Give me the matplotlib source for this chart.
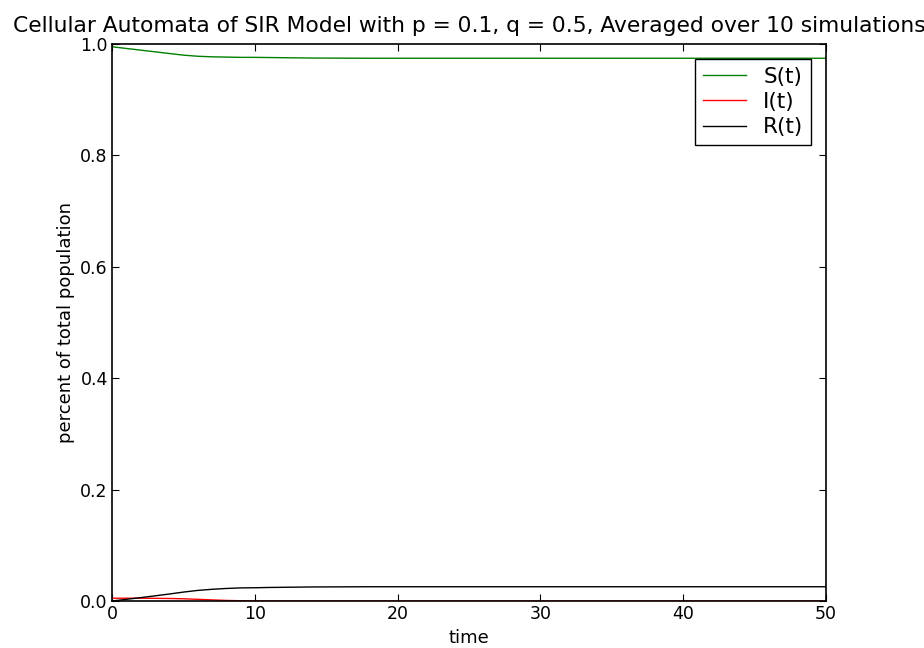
import matplotlib
matplotlib.use("Agg")
import matplotlib.pyplot as plt
import numpy as np

t = list(range(51))
S = [0.995, 0.992, 0.989, 0.986, 0.983, 0.980, 0.978, 0.977, 0.9765, 0.976,
     0.976, 0.9757, 0.9754, 0.9751, 0.9748, 0.9747, 0.9746, 0.9745, 0.9744, 0.9744,
     0.9744] + [0.9744] * 30
I = [0.005, 0.005, 0.005, 0.0048, 0.0045, 0.004, 0.003, 0.002, 0.001, 0.0005,
     0.0002] + [0.0] * 40
R = [0.0, 0.003, 0.006, 0.0092, 0.0125, 0.016, 0.019, 0.021, 0.0225, 0.0235,
     0.0238, 0.0243, 0.0246, 0.0249, 0.0252, 0.0253, 0.0254, 0.0255, 0.0256, 0.0256,
     0.0256] + [0.0256] * 30

fig = plt.figure(figsize=(9.24, 6.48), dpi=100)
ax = fig.add_axes([112 / 924, 47 / 648, 714 / 924, 557 / 648])

ax.plot(t, S, color='g', lw=1, label='S(t)')
ax.plot(t, I, color='r', lw=1, label='I(t)')
ax.plot(t, R, color='k', lw=1, label='R(t)')

ax.set_xlim(0, 50)
ax.set_ylim(0, 1.0)
ax.set_xticks([0, 10, 20, 30, 40, 50])
ax.set_yticks(np.arange(0, 1.01, 0.2))
ax.tick_params(direction='in', top=True, right=True, labelsize=12.5, length=5, pad=3)
for s in ax.spines.values():
    s.set_linewidth(1.2)

ax.set_xlabel('time', fontsize=13)
ax.set_ylabel('percent of total population', fontsize=13)
ax.set_title('Cellular Automata of SIR Model with p = 0.1, q = 0.5, Averaged over 10 simulations',
             fontsize=15.7, pad=9)

leg = ax.legend(loc='upper right', fontsize=15.5, fancybox=False, framealpha=1,
                edgecolor='black', handlelength=2.0, borderpad=0.35, labelspacing=0.25,
                borderaxespad=0.7)
leg.get_frame().set_linewidth(1)

fig.savefig('out.png', dpi=100)
